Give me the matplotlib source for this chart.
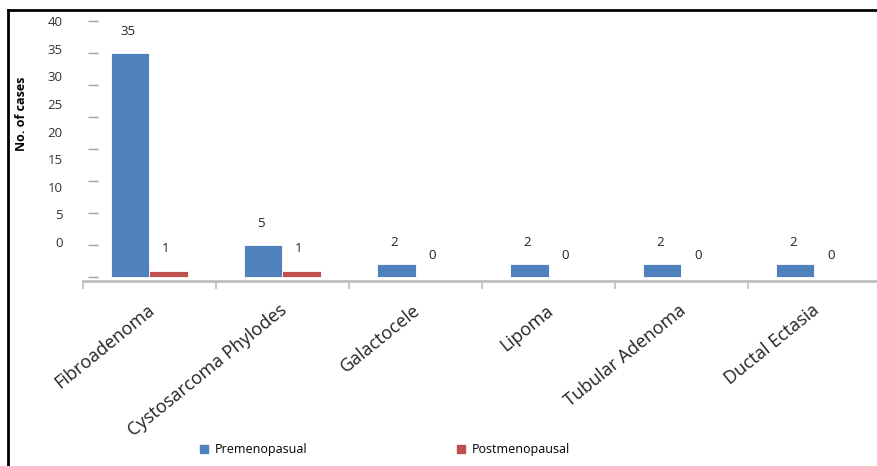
import matplotlib
matplotlib.use("Agg")
import matplotlib.pyplot as plt
import numpy as np
from matplotlib.lines import Line2D
from matplotlib.patches import Patch

plt.rcParams["font.family"] = ["Open Sans", "DejaVu Sans"]

lesions = ["Fibroadenoma", "Cystosarcoma Phylodes", "Galactocele", "Lipoma",
           "Tubular Adenoma", "Ductal Ectasia"]
premenopausal = [35, 5, 2, 2, 2, 2]
postmenopausal = [1, 1, 0, 0, 0, 0]
y_ticks = [0, 5, 10, 15, 20, 25, 30, 35, 40]

BLUE = "#4F81BD"
RED = "#C0504D"
GREY = "#BFBFBF"

W, H = 878, 466
fig = plt.figure(figsize=(W / 100, H / 100), dpi=100)

# plot area in pixels: left 83, right 881, top 21, bottom 281
ax = fig.add_axes([83 / W, (H - 281) / H, 798 / W, 260 / H])
ax.set_xlim(0, len(lesions))
ax.set_ylim(-0.625, 40)

x = np.arange(len(lesions)) + 0.5
bw = 0.286
b1 = ax.bar(x - bw / 2, premenopausal, bw, color=BLUE, edgecolor="white", linewidth=0.6)
b2 = ax.bar(x + bw / 2, postmenopausal, bw, color=RED, edgecolor="white", linewidth=0.6)
for bars, vals in ((b1, premenopausal), (b2, postmenopausal)):
    for bar, v in zip(bars, vals):
        ax.annotate(str(v), (bar.get_x() + bar.get_width() / 2, v),
                    xytext=(-2, 11), textcoords="offset points",
                    ha="center", va="bottom", fontsize=9.5, color="#222222")

for side in ("top", "right", "left"):
    ax.spines[side].set_visible(False)
ax.spines["bottom"].set_color(GREY)
ax.spines["bottom"].set_linewidth(2)

# category boundaries as ticks on the x axis
ax.set_xticks(np.arange(len(lesions) + 1))
ax.set_xticklabels([])
ax.tick_params(axis="x", length=6, width=1.2, color=GREY, direction="out")
for xi, name in zip(x, lesions):
    ax.text(xi + 0.02, -0.105, name, transform=ax.get_xaxis_transform(),
            rotation=39, rotation_mode="anchor", ha="right", va="center",
            fontsize=13, color="#222222")

# y tick marks (no axis line)
ax.spines["left"].set_position(("outward", -7))
ax.set_yticks(y_ticks)
ax.set_yticklabels([])
ax.tick_params(axis="y", length=7, width=1, color="#A0A0A0", direction="inout")

# tick labels sit on their own scale
lab = fig.add_axes(ax.get_position(), frameon=False)
lab.set_xlim(0, 1)
lab.set_ylim(-7.07, 40.04)
lab.set_xticks([])
lab.set_yticks(y_ticks)
lab.set_yticklabels([str(t) for t in y_ticks], fontsize=9.5, color="#333333")
lab.tick_params(axis="y", length=0, pad=14.5)
lab.patch.set_visible(False)

fig.text(22 / W, 1 - 114 / H, "No. of cases", rotation=90, ha="center", va="center",
         fontsize=9, fontweight="bold")

handles = [Patch(color=BLUE, label="Premenopasual"), Patch(color=RED, label="Postmenopausal")]
fig.legend(handles=handles, loc="center left", bbox_to_anchor=(189 / W, 1 - 450 / H),
           ncol=2, frameon=False, fontsize=9, handlelength=0.65, handleheight=0.65,
           handletextpad=0.5, columnspacing=12.0)

# frame lines on the left and top edges
fig.add_artist(Line2D([8 / W, 8 / W], [0, 1 - 10 / H], color="black", lw=2))
fig.add_artist(Line2D([8 / W, 1], [1 - 10 / H, 1 - 10 / H], color="black", lw=2))

fig.savefig("out.png", dpi=100, facecolor="white")
